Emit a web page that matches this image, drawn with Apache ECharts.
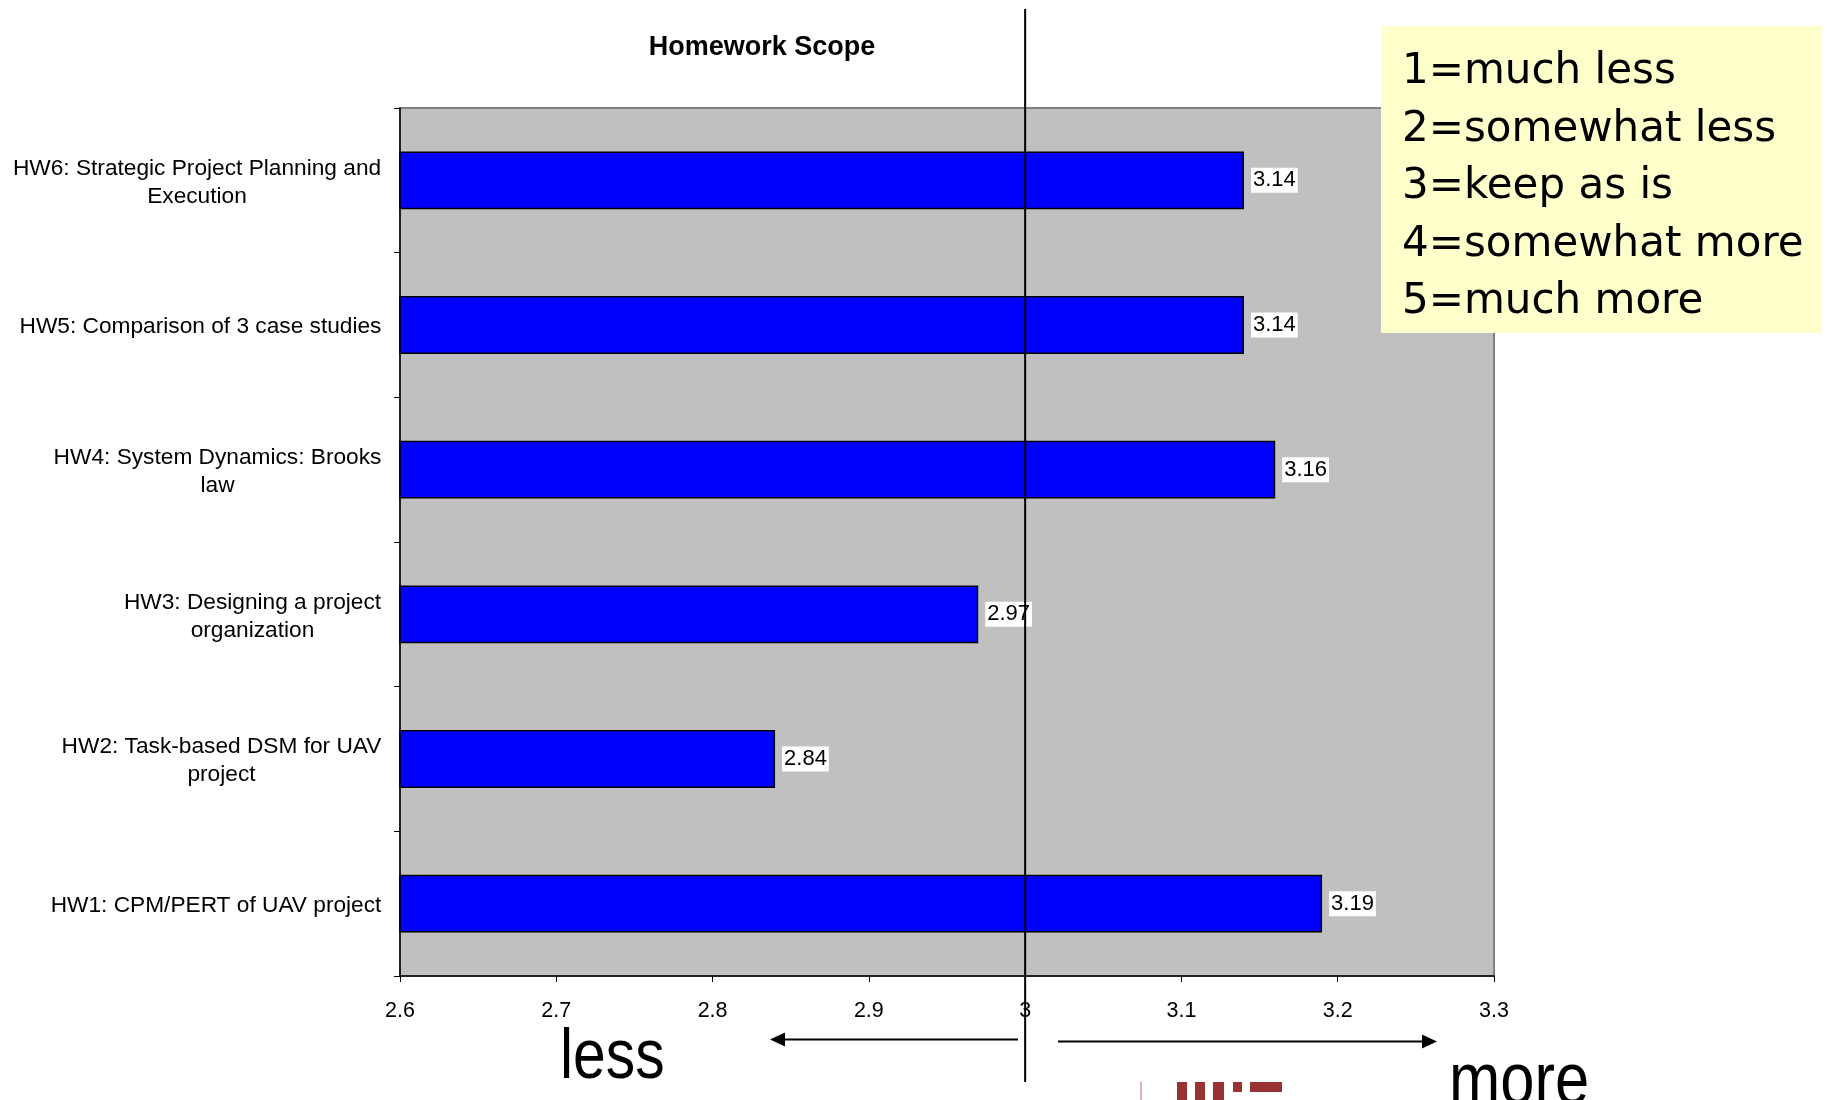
<!DOCTYPE html>
<html>
<head>
<meta charset="utf-8">
<title>Homework Scope</title>
<script src="https://cdn.jsdelivr.net/npm/echarts@6/dist/echarts.min.js"></script>
<style>
  html, body { margin: 0; padding: 0; background: #ffffff; }
  #chart { width: 1827px; height: 1100px; }
</style>
</head>
<body>
<div id="chart"></div>
<script>
// Survey results: mean rating per homework (bottom to top on the chart)
const categories = [
  'HW1: CPM/PERT of UAV project',
  'HW2: Task-based DSM for UAV\nproject',
  'HW3: Designing a project\norganization',
  'HW4: System Dynamics: Brooks\nlaw',
  'HW5: Comparison of 3 case studies',
  'HW6: Strategic Project Planning and\nExecution'
];
const scores = [3.19, 2.84, 2.97, 3.16, 3.14, 3.14];

// Value axis range and step
const axisMin = 2.6;
const axisMax = 3.3;
const axisStep = 0.1;

// Rating scale key
const scaleKey = ['1=much less', '2=somewhat less', '3=keep as is', '4=somewhat more', '5=much more'];
const neutralScore = 3;
const directionWords = ['less', 'more'];

const FONT = '"Liberation Sans", Arial, Helvetica, sans-serif';
const LABEL_SIZE = 22.7;

// Multi-line category labels: each block is right-aligned to the axis,
// with its lines centred inside the block (width of the longest line).
const measureCtx = document.createElement('canvas').getContext('2d');
measureCtx.font = LABEL_SIZE + 'px ' + FONT;
const labelRich = {};
categories.forEach((c, i) => {
  const w = Math.max(...c.split('\n').map(l => measureCtx.measureText(l).width));
  labelRich['c' + i] = {
    width: Math.ceil(w) + 1, align: 'center',
    fontSize: LABEL_SIZE, lineHeight: 28, fontFamily: FONT, color: '#000'
  };
});

const chart = echarts.init(document.getElementById('chart'), null, { renderer: 'canvas' });

const option = {
  animation: false,
  backgroundColor: '#ffffff',
  title: {
    text: 'Homework Scope',
    left: 762, top: 34, textAlign: 'center', padding: 0,
    textStyle: { fontFamily: FONT, fontSize: 27, fontWeight: 'bold', color: '#000' }
  },
  grid: {
    left: 400, right: 333, top: 108, bottom: 124,
    show: true, backgroundColor: '#c0c0c0', borderColor: '#808080', borderWidth: 2
  },
  xAxis: {
    type: 'value', min: axisMin, max: axisMax, interval: axisStep,
    splitLine: { show: false },
    axisLine: { show: true, lineStyle: { color: '#000', width: 1.5 } },
    axisTick: { show: true, length: 6, lineStyle: { color: '#000', width: 1 } },
    axisLabel: {
      margin: 24, fontFamily: FONT, fontSize: 21.5, color: '#000',
      formatter: v => String(Math.round(v * 10) / 10)
    }
  },
  yAxis: {
    type: 'category', data: categories,
    axisLine: { show: true, lineStyle: { color: '#000', width: 1.5 } },
    axisTick: { show: true, length: 6, alignWithLabel: false, lineStyle: { color: '#000', width: 1 } },
    axisLabel: {
      margin: 18, align: 'right', rich: labelRich, padding: [4, 0, 0, 0],
      formatter: (value, idx) => value.split('\n').map(l => '{c' + idx + '|' + l + '}').join('\n')
    },
    splitLine: { show: false }
  },
  series: [{
    type: 'bar',
    data: scores,
    barWidth: '40%',
    itemStyle: { color: '#0000ff', borderColor: '#000', borderWidth: 1.5 },
    label: {
      show: true, position: 'right', distance: 7,
      fontFamily: FONT, fontSize: 22, color: '#000',
      backgroundColor: '#ffffff', padding: [2, 2, 1, 2],
      formatter: p => p.value.toFixed(2)
    }
  }],
  graphic: []
};

chart.setOption(option);

// Reference line at the neutral score, extending past the plot area
const xNeutral = chart.convertToPixel({ xAxisIndex: 0 }, neutralScore);

const keyTexts = scaleKey.map((t, i) => ({
  type: 'text', left: 1402, top: 51 + i * 57.6, z: 101,
  style: { text: t, fontFamily: '"DejaVu Sans", Verdana, sans-serif', fontSize: 42, fill: '#000' }
}));

const NARROW = '"Liberation Sans Narrow", "Arial Narrow", ' + FONT;
const logoColor = '#993333';

chart.setOption({
  graphic: [
    {
      type: 'line', z: 90,
      shape: { x1: xNeutral, y1: 9, x2: xNeutral, y2: 1082 },
      style: { stroke: '#000', lineWidth: 2 }
    },
    // scale key box
    {
      type: 'rect', z: 100,
      shape: { x: 1381, y: 26, width: 441, height: 307 },
      style: { fill: '#ffffcc' }
    },
    ...keyTexts,
    // direction arrows
    {
      type: 'line', z: 50,
      shape: { x1: 1018, y1: 1039.5, x2: 782, y2: 1039.5 },
      style: { stroke: '#000', lineWidth: 2 }
    },
    {
      type: 'polygon', z: 50,
      shape: { points: [[770, 1039.5], [785, 1032.5], [785, 1046.5]] },
      style: { fill: '#000' }
    },
    {
      type: 'line', z: 50,
      shape: { x1: 1058, y1: 1041.5, x2: 1426, y2: 1041.5 },
      style: { stroke: '#000', lineWidth: 2 }
    },
    {
      type: 'polygon', z: 50,
      shape: { points: [[1437, 1041.5], [1422, 1034.5], [1422, 1048.5]] },
      style: { fill: '#000' }
    },
    // condensed direction words
    {
      type: 'text', x: 560, y: 1024, scaleX: 0.84, z: 50,
      style: { text: directionWords[0], fontFamily: NARROW, fontSize: 70, fill: '#000' }
    },
    {
      type: 'text', x: 1449, y: 1046, scaleX: 0.82, z: 50,
      style: { text: directionWords[1], fontFamily: NARROW, fontSize: 75, fill: '#000' }
    },
    // logo fragment at the bottom edge
    { type: 'rect', z: 40, shape: { x: 1140, y: 1082, width: 2, height: 18 }, style: { fill: '#e3b3b3' } },
    { type: 'rect', z: 40, shape: { x: 1177, y: 1082, width: 10, height: 18 }, style: { fill: logoColor } },
    { type: 'rect', z: 40, shape: { x: 1195, y: 1082, width: 10, height: 18 }, style: { fill: logoColor } },
    { type: 'rect', z: 40, shape: { x: 1213, y: 1082, width: 11, height: 18 }, style: { fill: logoColor } },
    { type: 'rect', z: 40, shape: { x: 1233, y: 1082, width: 9, height: 10 }, style: { fill: logoColor } },
    { type: 'rect', z: 40, shape: { x: 1250, y: 1082, width: 32, height: 10 }, style: { fill: logoColor } }
  ]
});
</script>
</body>
</html>
